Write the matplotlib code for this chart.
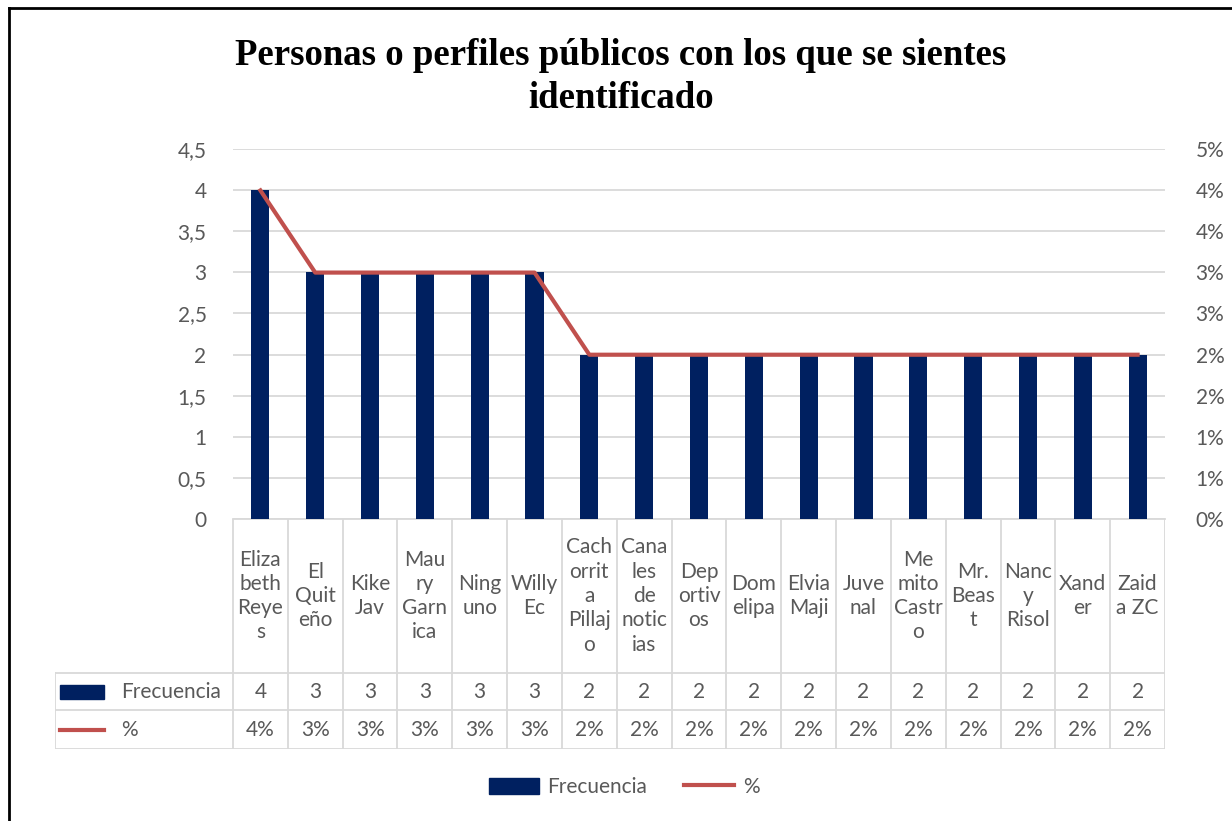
import numpy as np
import matplotlib
matplotlib.use("Agg")
import matplotlib.pyplot as plt
from matplotlib.lines import Line2D
from matplotlib.patches import Rectangle
from matplotlib.ticker import FuncFormatter

# datos
etiquetas = ["Eliza\nbeth\nReye\ns", "El\nQuit\neño", "Kike\nJav", "Mau\nry\nGarn\nica",
             "Ning\nuno", "Willy\nEc", "Cach\norrit\na\nPillaj\no", "Cana\nles\nde\nnotic\nias",
             "Dep\nortiv\nos", "Dom\nelipa", "Elvia\nMaji", "Juve\nnal", "Me\nmito\nCastr\no",
             "Mr.\nBeas\nt", "Nanc\ny\nRisol", "Xand\ner", "Zaid\na ZC"]
frecuencia = [4, 3, 3, 3, 3, 3, 2, 2, 2, 2, 2, 2, 2, 2, 2, 2, 2]
porcentaje = [0.0444, 0.0333, 0.0333, 0.0333, 0.0333, 0.0333, 0.0222, 0.0222, 0.0222,
              0.0222, 0.0222, 0.0222, 0.0222, 0.0222, 0.0222, 0.0222, 0.0222]
ticks_izq = [0, 0.5, 1, 1.5, 2, 2.5, 3, 3.5, 4, 4.5]

AZUL = "#002060"
ROJO = "#C0504D"
GRIS = "#595959"
GRID = "#D9D9D9"
FUENTE = "Lato"
FS = 15

W, H = 1232, 821
fig = plt.figure(figsize=(W / 100, H / 100), dpi=100)

def fx(px):
    return px / W

def fy(py):
    return 1 - py / H

x0, x1 = 233, 1165
y_top, y_base = 149, 519
n = len(frecuencia)

ax = fig.add_axes([fx(x0), fy(y_base), fx(x1 - x0), (y_base - y_top) / H])
x = np.arange(n)
ax.bar(x, frecuencia, width=0.33, color=AZUL, zorder=3)
ax.set_xlim(-0.5, n - 0.5)
ax.set_ylim(0, 4.5)
ax.set_yticks(ticks_izq)
ax.yaxis.set_major_formatter(FuncFormatter(lambda v, p: f"{v:g}".replace(".", ",")))
ax.set_xticks([])
ax.grid(axis="y", color=GRID, lw=1.3, zorder=0)
for s in ["top", "right", "left"]:
    ax.spines[s].set_visible(False)
ax.spines["bottom"].set_color(GRID)
ax.spines["bottom"].set_linewidth(1.3)
ax.tick_params(axis="y", length=0, pad=19, labelsize=FS, labelcolor=GRIS)
for t in ax.get_yticklabels():
    t.set_fontfamily(FUENTE)

ax2 = ax.twinx()
ax2.plot(x, porcentaje, color=ROJO, lw=3, zorder=4, solid_joinstyle="round")
ax2.set_ylim(0, 0.05)
ax2.set_yticks(np.linspace(0, 0.05, 10))
ax2.yaxis.set_major_formatter(FuncFormatter(lambda v, p: f"{v * 100:.0f}%"))
for s in ["top", "right", "left", "bottom"]:
    ax2.spines[s].set_visible(False)
ax2.tick_params(axis="y", length=0, pad=22, labelsize=FS, labelcolor=GRIS)
for t in ax2.get_yticklabels():
    t.set_fontfamily(FUENTE)

# tabla de datos
tx0, ty0, ty1 = 55, 519, 749
cw = (x1 - x0) / n
left_units = -0.5 - (x0 - tx0) / cw
tax = fig.add_axes([fx(tx0), fy(ty1), fx(x1 - tx0), (ty1 - ty0) / H])
tax.set_xlim(left_units, n - 0.5)
tax.set_ylim(ty1 - ty0, 0)
tax.axis("off")
r1, r2, r3 = 154, 191, 230
kw = dict(color=GRID, lw=1.3)
for i in range(n + 1):
    tax.plot([i - 0.5, i - 0.5], [0, r3], **kw)
tax.plot([left_units, left_units], [r1, r3], **kw)
for yy in [r1, r2, r3]:
    tax.plot([left_units, n - 0.5], [yy, yy], **kw)
for i in range(n):
    tax.text(i, r1 / 2, etiquetas[i], ha="center", va="center", fontsize=FS,
             color=GRIS, family=FUENTE, linespacing=1.27)
    tax.text(i, (r1 + r2) / 2, str(frecuencia[i]), ha="center", va="center",
             fontsize=FS, color=GRIS, family=FUENTE)
    tax.text(i, (r2 + r3) / 2, f"{porcentaje[i] * 100:.0f}%", ha="center", va="center",
             fontsize=FS, color=GRIS, family=FUENTE)
ku = 44 / cw
tax.add_patch(Rectangle((left_units + 5 / cw, (r1 + r2) / 2 - 7), ku, 14, color=AZUL))
tax.plot([left_units + 5 / cw, left_units + 5 / cw + ku], [(r2 + r3) / 2] * 2, color=ROJO, lw=3)
tax.text(left_units + 66 / cw, (r1 + r2) / 2, "Frecuencia", ha="left", va="center",
         fontsize=FS, color=GRIS, family=FUENTE)
tax.text(left_units + 66 / cw, (r2 + r3) / 2, "%", ha="left", va="center",
         fontsize=FS, color=GRIS, family=FUENTE)

# leyenda
handles = [Rectangle((0, 0), 1, 1, color=AZUL), Line2D([0], [0], color=ROJO, lw=3)]
fig.legend(handles, ["Frecuencia", "%"], loc="center", bbox_to_anchor=(fx(624), fy(787)),
           ncol=2, frameon=False, prop={"family": FUENTE, "size": FS}, labelcolor=GRIS,
           handlelength=2.4, handleheight=0.8, columnspacing=1.8, handletextpad=0.4)

# titulo
fig.text(fx(621), fy(77), "Personas o perfiles públicos con los que se sientes\nidentificado",
         ha="center", va="center", fontsize=26.5, fontweight="bold",
         family="Liberation Serif", linespacing=1.32)

# borde
fig.add_artist(Line2D([fx(9), fx(9)], [fy(8), 0], color="black", lw=2))
fig.add_artist(Line2D([fx(9), 1], [fy(8), fy(8)], color="black", lw=2))

fig.savefig("out.png", dpi=100)
